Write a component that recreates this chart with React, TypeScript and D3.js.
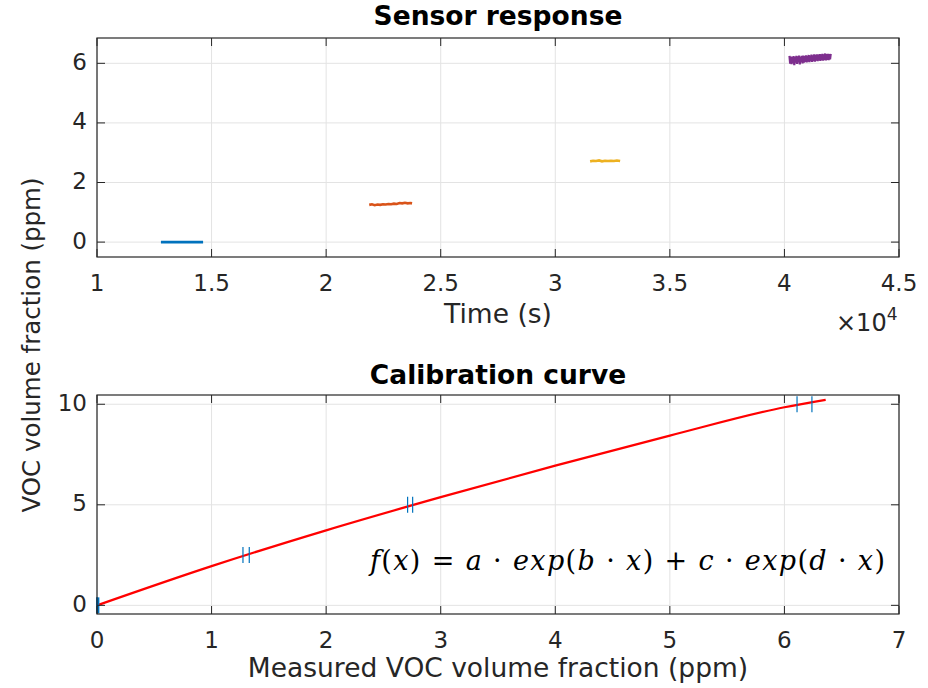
import React from "react";
import * as d3 from "d3";

// ---------- Data ----------
const blueT = [12790, 13200, 13600, 14000, 14400, 14630];
const blueV = [0.0, 0.0, 0.0, 0.0, 0.0, 0.0];

const orangeT = [21880, 22000, 22120, 22240, 22360, 22480, 22600, 22720, 22840, 22960, 23080, 23200, 23320, 23440, 23560, 23680, 23750];
const orangeV = [1.25, 1.27, 1.24, 1.26, 1.25, 1.27, 1.26, 1.28, 1.27, 1.29, 1.28, 1.31, 1.30, 1.32, 1.30, 1.31, 1.30];

const yellowT = [31520, 31650, 31780, 31910, 32040, 32170, 32300, 32430, 32560, 32690, 32830];
const yellowV = [2.71, 2.73, 2.72, 2.74, 2.71, 2.73, 2.72, 2.73, 2.72, 2.74, 2.72];

const purpleT = [40220, 40250, 40280, 40310, 40340, 40370, 40400, 40430, 40460, 40490, 40520, 40550, 40580, 40610, 40640, 40670, 40700, 40730, 40760, 40790, 40820, 40850, 40880, 40910, 40940, 40970, 41000, 41030, 41060, 41090, 41120, 41150, 41180, 41210, 41240, 41270, 41300, 41330, 41360, 41390, 41420, 41450, 41480, 41510, 41540, 41570, 41600, 41630, 41660, 41690, 41720, 41750, 41780, 41810, 41840, 41870, 41900, 41930, 41960, 41990, 42020];
const purpleV = [6.25, 5.99, 6.23, 5.97, 6.22, 6.01, 6.24, 5.94, 6.21, 6.02, 6.25, 5.98, 6.23, 6.03, 6.26, 5.96, 6.22, 6.04, 6.25, 6.00, 6.26, 6.02, 6.24, 6.05, 6.27, 6.03, 6.25, 6.06, 6.28, 6.04, 6.26, 6.07, 6.29, 6.05, 6.27, 6.08, 6.30, 6.06, 6.28, 6.09, 6.30, 6.07, 6.29, 6.10, 6.31, 6.08, 6.30, 6.11, 6.32, 6.09, 6.30, 6.12, 6.33, 6.10, 6.31, 6.12, 6.32, 6.11, 6.31, 6.13, 6.32];

const segColors = ["#0072BD", "#D95319", "#EDB120", "#7E2F8E"];

const calibRef = [0, 2.5, 5, 10];
const calibMin = [0, 1.274, 2.711, 6.11];
const calibMax = [0.012, 1.329, 2.755, 6.24];

const fitX = [0, 1, 2, 3, 4, 5, 6, 6.36];
const fitY = [0, 1.95, 3.73, 5.38, 6.95, 8.44, 9.85, 10.22];

const topXTicks = [10000, 15000, 20000, 25000, 30000, 35000, 40000, 45000];
const topXTickLabels = ["1", "1.5", "2", "2.5", "3", "3.5", "4", "4.5"];
const topYTicks = [0, 2, 4, 6];
const botXTicks = [0, 1, 2, 3, 4, 5, 6, 7];
const botYTicks = [0, 5, 10];

// ---------- Layout ----------
const W = 928, H = 688;
const L = 97, R = 899;
const top1 = 38, bot1 = 257;
const top2 = 395, bot2 = 614;
const FONT = "DejaVu Sans";
const AX = "#262626";
const GRID = "#e3e3e3";
const TICK = 8;

export default function App() {
  const x1 = d3.scaleLinear().domain([10000, 45000]).range([L, R]);
  const y1 = d3.scaleLinear().domain([-0.5, 6.85]).range([bot1, top1]);
  const x2 = d3.scaleLinear().domain([0, 7]).range([L, R]);
  const y2 = d3.scaleLinear().domain([-0.43, 10.46]).range([bot2, top2]);

  const segs = [
    [blueT, blueV],
    [orangeT, orangeV],
    [yellowT, yellowV],
    [purpleT, purpleV],
  ];
  const segLine = d3
    .line<[number, number]>()
    .x((d) => x1(d[0]))
    .y((d) => y1(d[1]));

  const fitLine = d3
    .line<[number, number]>()
    .x((d) => x2(d[0]))
    .y((d) => y2(d[1]))
    .curve(d3.curveMonotoneX);

  const tickFont = 23;
  const labelFont = 26.5;
  const titleFont = 26.5;

  return (
    <svg width={W} height={H} style={{ display: "block", position: "absolute", left: 0, top: 0 }} fontFamily={FONT}>
      <rect width={W} height={H} fill="#fff" />

      {/* ===== Top axes ===== */}
      {topXTicks.map((t) => (
        <line key={"g1x" + t} x1={x1(t)} x2={x1(t)} y1={top1} y2={bot1} stroke={GRID} strokeWidth={1} />
      ))}
      {topYTicks.map((t) => (
        <line key={"g1y" + t} x1={L} x2={R} y1={y1(t)} y2={y1(t)} stroke={GRID} strokeWidth={1} />
      ))}
      {segs.map((s, i) => (
        <path
          key={"seg" + i}
          d={segLine(s[0].map((t, j) => [t, s[1][j]] as [number, number])) || ""}
          fill="none"
          stroke={segColors[i]}
          strokeWidth={i === 3 ? 2.2 : 2.6}
          strokeLinejoin="miter"
        />
      ))}
      <rect x={L} y={top1} width={R - L} height={bot1 - top1} fill="none" stroke={AX} strokeWidth={1.2} />
      {topXTicks.map((t, i) => (
        <g key={"t1x" + t}>
          <line x1={x1(t)} x2={x1(t)} y1={bot1} y2={bot1 - TICK} stroke={AX} />
          <line x1={x1(t)} x2={x1(t)} y1={top1} y2={top1 + TICK} stroke={AX} />
          <text x={x1(t)} y={bot1 + 27} fontSize={tickFont} textAnchor="middle" fill={AX} dominantBaseline="middle">
            {topXTickLabels[i]}
          </text>
        </g>
      ))}
      {topYTicks.map((t) => (
        <g key={"t1y" + t}>
          <line x1={L} x2={L + TICK} y1={y1(t)} y2={y1(t)} stroke={AX} />
          <line x1={R} x2={R - TICK} y1={y1(t)} y2={y1(t)} stroke={AX} />
          <text x={L - 10} y={y1(t)} fontSize={tickFont} textAnchor="end" fill={AX} dominantBaseline="middle">
            {t}
          </text>
        </g>
      ))}
      <text x={(L + R) / 2} y={17} fontSize={titleFont} fontWeight="bold" textAnchor="middle" dominantBaseline="middle" fill="#000">
        Sensor response
      </text>
      <text x={(L + R) / 2} y={315} fontSize={labelFont} textAnchor="middle" dominantBaseline="middle" fill={AX}>
        Time (s)
      </text>
      <text x={836} y={331} fontSize={24} fill={AX}>
        ×10<tspan dy={-11} fontSize={17}>4</tspan>
      </text>

      {/* ===== Bottom axes ===== */}
      {botXTicks.map((t) => (
        <line key={"g2x" + t} x1={x2(t)} x2={x2(t)} y1={top2} y2={bot2} stroke={GRID} strokeWidth={1} />
      ))}
      {botYTicks.map((t) => (
        <line key={"g2y" + t} x1={L} x2={R} y1={y2(t)} y2={y2(t)} stroke={GRID} strokeWidth={1} />
      ))}
      <path
        d={fitLine(fitX.map((v, i) => [v, fitY[i]] as [number, number])) || ""}
        fill="none"
        stroke="#ff0000"
        strokeWidth={2.2}
      />
      {calibRef.map((r, i) => (
        <g key={"cal" + i}>
          <line x1={x2(calibMin[i])} x2={x2(calibMin[i])} y1={y2(r) - 8} y2={y2(r) + 8} stroke="#0072BD" strokeWidth={i === 0 ? 2 : 1.2} />
          <line x1={x2(calibMax[i])} x2={x2(calibMax[i])} y1={y2(r) - 8} y2={y2(r) + 8} stroke="#0072BD" strokeWidth={i === 0 ? 2 : 1.2} />
        </g>
      ))}
      <rect x={L} y={top2} width={R - L} height={bot2 - top2} fill="none" stroke={AX} strokeWidth={1.2} />
      {botXTicks.map((t) => (
        <g key={"t2x" + t}>
          <line x1={x2(t)} x2={x2(t)} y1={bot2} y2={bot2 - TICK} stroke={AX} />
          <line x1={x2(t)} x2={x2(t)} y1={top2} y2={top2 + TICK} stroke={AX} />
          <text x={x2(t)} y={bot2 + 27} fontSize={tickFont} textAnchor="middle" fill={AX} dominantBaseline="middle">
            {t}
          </text>
        </g>
      ))}
      {botYTicks.map((t) => (
        <g key={"t2y" + t}>
          <line x1={L} x2={L + TICK} y1={y2(t)} y2={y2(t)} stroke={AX} />
          <line x1={R} x2={R - TICK} y1={y2(t)} y2={y2(t)} stroke={AX} />
          <text x={L - 10} y={y2(t)} fontSize={tickFont} textAnchor="end" fill={AX} dominantBaseline="middle">
            {t}
          </text>
        </g>
      ))}
      <text x={(L + R) / 2} y={376} fontSize={titleFont} fontWeight="bold" textAnchor="middle" dominantBaseline="middle" fill="#000">
        Calibration curve
      </text>
      <text x={(L + R) / 2} y={669} fontSize={labelFont} textAnchor="middle" dominantBaseline="middle" fill={AX}>
        Measured VOC volume fraction (ppm)
      </text>
      <text
        transform={`translate(33, 345) rotate(-90)`}
        fontSize={24.5}
        textAnchor="middle"
        dominantBaseline="middle"
        fill={AX}
      >
        VOC volume fraction (ppm)
      </text>

      {/* formula */}
      <text x={370} y={570} fontSize={27} fontFamily="DejaVu Serif" fill="#000" textLength={515} lengthAdjust="spacing">
        <tspan fontStyle="italic">f</tspan>(<tspan fontStyle="italic">x</tspan>) = <tspan fontStyle="italic">a</tspan> · <tspan fontStyle="italic">exp</tspan>(<tspan fontStyle="italic">b</tspan> · <tspan fontStyle="italic">x</tspan>) + <tspan fontStyle="italic">c</tspan> · <tspan fontStyle="italic">exp</tspan>(<tspan fontStyle="italic">d</tspan> · <tspan fontStyle="italic">x</tspan>)
      </text>
    </svg>
  );
}
